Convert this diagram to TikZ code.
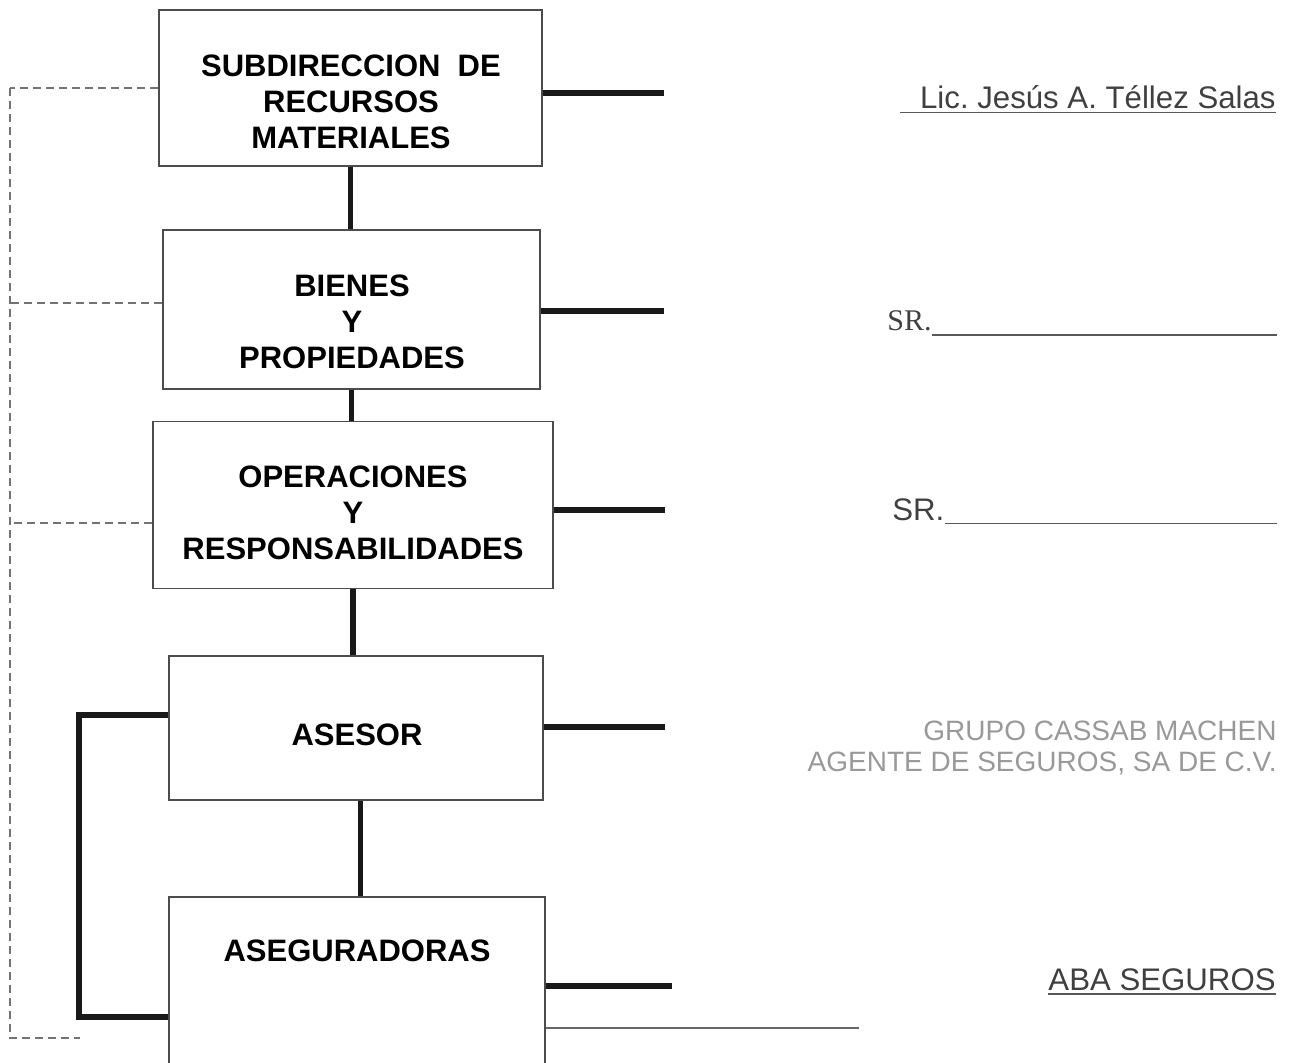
\documentclass[tikz,border=0pt]{standalone}
\usepackage{fontspec}
\setmainfont{Liberation Sans}
\newfontfamily\romana{Liberation Serif}
\frenchspacing
\tikzset{
	caja/.style 2 args={draw=black!70, line width=.9pt, minimum width=#1, minimum height=#2, inner sep=0pt},
	titulo/.style={font=\bfseries\fontsize{15.5}{18}\selectfont, align=center, inner sep=0pt},
	tronco/.style={line width=2.7pt, black!90},
	punteada/.style={line width=.7pt, black!55, dash pattern=on 4pt off 2.5pt},
	delgada/.style={line width=.9pt, black!60},
	nombre/.style={font=\fontsize{15.6}{18}\selectfont, text=black!75, inner sep=0pt},
	subraya/.style={line width=.9pt, black!65}
}
\begin{document}
\begin{tikzpicture}[x=.5pt, y=-.5pt, line join=miter]
				\useasboundingbox (0,0) rectangle (1291,1062);
				%% Cajas
				\node[caja={191.5pt}{78pt}] (sub) at (350.5,88) {};
				\node[caja={188.5pt}{79.5pt}] (bie) at (351.5,309.5) {};
				\node[caja={200pt}{83.5pt}] (ope) at (353,505) {};
				\node[caja={187pt}{72pt}] (ase) at (356,728) {};
				\node[caja={188pt}{92pt}] (asg) at (357,989) {};
				%% Textos de las cajas
				\node[titulo] (tsub) at (351,101.5) {SUBDIRECCION\ \ DE\\RECURSOS\\MATERIALES};
				\node[titulo] (tbie) at (352,321.5) {BIENES\\Y\\PROPIEDADES};
				\node[titulo] (tope) at (353,512.5) {OPERACIONES\\Y\\RESPONSABILIDADES};
				\node[titulo] (tase) at (357,735) {ASESOR};
				\node[titulo] (tasg) at (357,951) {ASEGURADORAS};
				%% Lineas verticales
				\draw[tronco] (sub.south) -- (sub.south |- bie.north);
				\draw[tronco] (bie.south) -- (bie.south |- ope.north);
				\draw[tronco] (ope.south) -- (ope.south |- ase.north);
				\draw[tronco] ([xshift=2.25pt]ase.south) -- ([xshift=2.25pt]ase.south |- asg.north);
				%% Declaracion de puntos
				\path 
				(664,93) coordinate (r1)
				(664,311) coordinate (r2)
				(665,510) coordinate (r3)
				(665,727) coordinate (r4)
				(672,986) coordinate (r5)
				(859,1028) coordinate (r6)
				(10,88) coordinate (d1)
				(10,303) coordinate (d2)
				(10,523) coordinate (d3)
				(10,1038) coordinate (d4)
				(80,1038) coordinate (d5)
				(79,715) coordinate (k1)
				(79,1017) coordinate (k2)
				;
				%% Lineas a la derecha
				\foreach \c/\r in {sub/r1,bie/r2,ope/r3,ase/r4,asg/r5}
				\draw[tronco] (\c.east |- \r) -- (\r);
				\draw[delgada] (asg.east |- r6) -- (r6);
				%% Linea punteada
				\foreach \c/\d in {sub/d1,bie/d2,ope/d3}
				\draw[punteada] (\c.west |- \d) -- (\d);
				\draw[punteada] (d1) -- (d4) -- (d5);
				%% Asesor y aseguradoras
				\draw[tronco] (ase.west |- k1) -- (k1) -- (k2) -- (asg.west |- k2);
				%% Nombres
				\node[nombre, anchor=base east] (lic) at (1276,108) {Lic. Jesús A. Téllez Salas};
				\path (900,112.5) coordinate (u1);
				\draw[subraya] (u1) -- (u1 -| lic.east);
				\node[nombre, font=\romana\fontsize{15}{18}\selectfont, anchor=base west] (sr1) at (887,330) {SR.};
				\path (1277,335) coordinate (u2);
				\draw[subraya] (sr1.base east |- u2) -- (u2);
				\node[nombre, anchor=base west] (sr2) at (892,520) {SR.};
				\path (1277,523.5) coordinate (u3);
				\draw[subraya] (sr2.base east |- u3) -- (u3);
				\node[nombre, text=black!40, font=\fontsize{14}{15.5}\selectfont, align=right, anchor=east] (grupo) at (1277,748) {GRUPO CASSAB MACHEN\\AGENTE DE SEGUROS, SA DE C.V.};
				\node[nombre, anchor=base east] (aba) at (1276,990) {ABA SEGUROS};
				\path (1276,994) coordinate (u4);
				\draw[subraya] (aba.base west |- u4) -- (u4);
\end{tikzpicture}
\end{document}
